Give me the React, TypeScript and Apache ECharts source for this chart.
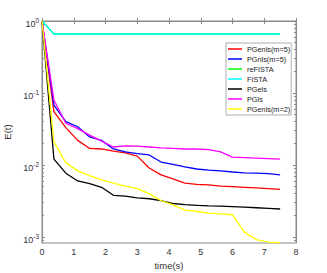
import React, { useEffect, useRef } from "react";
import * as echarts from "echarts";

const times: number[] = [0, 0.375, 0.75, 1.125, 1.5, 1.875, 2.25, 2.625, 3, 3.375, 3.75, 4.125, 4.5, 4.875, 5.25, 5.625, 6, 6.375, 6.75, 7.125, 7.5];

const seriesNames: string[] = ["PGenls(m=5)", "PGnls(m=5)", "reFISTA", "FISTA", "PGels", "PGls", "PGenls(m=2)"];
const seriesColors: string[] = ["#ff0000", "#0000ff", "#00ff00", "#00ffff", "#000000", "#ff00ff", "#ffff00"];

const pgenls5: number[] = [1.0, 0.055, 0.033, 0.022, 0.017, 0.0167, 0.0156, 0.0147, 0.0133, 0.0091, 0.0073, 0.0064, 0.0056, 0.0054, 0.0053, 0.0051, 0.005, 0.0049, 0.0048, 0.0047, 0.0046];
const pgnls5: number[] = [1.0, 0.068, 0.04, 0.034, 0.0245, 0.022, 0.0167, 0.0152, 0.0144, 0.0138, 0.011, 0.0102, 0.0094, 0.0088, 0.0085, 0.0083, 0.008, 0.0078, 0.0077, 0.0076, 0.0073];
const refista: number[] = [1.0, 0.66, 0.66, 0.66, 0.66, 0.66, 0.66, 0.66, 0.66, 0.66, 0.66, 0.66, 0.66, 0.66, 0.66, 0.66, 0.66, 0.66, 0.66, 0.66, 0.66];
const fista: number[] = [1.0, 0.66, 0.66, 0.66, 0.66, 0.66, 0.66, 0.66, 0.66, 0.66, 0.66, 0.66, 0.66, 0.66, 0.66, 0.66, 0.66, 0.66, 0.66, 0.66, 0.66];
const pgels: number[] = [1.0, 0.0121, 0.0077, 0.006, 0.0055, 0.0049, 0.0038, 0.0037, 0.0035, 0.0034, 0.0032, 0.00292, 0.00282, 0.00276, 0.0027, 0.00268, 0.00265, 0.0026, 0.00255, 0.0025, 0.00245];
const pgls: number[] = [1.0, 0.08, 0.038, 0.032, 0.026, 0.0215, 0.0178, 0.0185, 0.0183, 0.0178, 0.0173, 0.017, 0.0167, 0.0167, 0.0164, 0.0152, 0.0129, 0.0127, 0.0125, 0.0123, 0.0121];
const pgenls2: number[] = [1.0, 0.021, 0.0107, 0.0083, 0.0071, 0.0062, 0.0056, 0.0051, 0.0047, 0.004, 0.0032, 0.0028, 0.00237, 0.00228, 0.00215, 0.0021, 0.00204, 0.00117, 0.00092, 0.00085, 0.00083];

const seriesValues: number[][] = [pgenls5, pgnls5, refista, fista, pgels, pgls, pgenls2];

const yMajor: number[] = [-3, -2, -1, 0];
const yMin = -3.083;
const yMax = 0;

const xTickLabels: string[] = ["0", "1", "2", "3", "4", "5", "6", "7", "8"];

function minorLogTicks(): number[] {
  const out: number[] = [];
  for (let d = -4; d < 0; d++) {
    for (let m = 2; m <= 9; m++) {
      const v = d + Math.log10(m);
      if (v >= yMin && v <= yMax) out.push(v);
    }
  }
  return out;
}

const axisColor = "#8a8a8a";
const labelColor = "#333333";
const font = "Liberation Sans, Arial, sans-serif";

export default function App() {
  const ref = useRef<HTMLDivElement>(null);
  useEffect(() => {
    if (!ref.current) return;
    const chart = echarts.init(ref.current, null, { renderer: "svg" });
    const minors = minorLogTicks();
    const baseY = {
      type: "value",
      min: yMin,
      max: yMax,
      splitLine: { show: false },
      axisLine: { show: false },
    };
    const option: any = {
      animation: false,
      backgroundColor: "#ffffff",
      textStyle: { fontFamily: font },
      grid: {
        left: 42, right: 31, top: 21, bottom: 30,
        containLabel: false, outerBoundsMode: "none",
        show: true, borderColor: axisColor, borderWidth: 1, backgroundColor: "#ffffff",
      },
      legend: {
        orient: "vertical",
        left: 226,
        top: 43,
        data: seriesNames.map((n) => ({ name: n, icon: "rect" })),
        itemWidth: 14,
        itemHeight: 1.5,
        itemGap: 0,
        padding: [1, 1, 1, 2],
        backgroundColor: "#ffffff",
        borderColor: "#9a9a9a",
        borderWidth: 0.8,
        borderRadius: 0,
        textStyle: { fontSize: 7.3, lineHeight: 10, height: 10, color: "#222222", fontFamily: font },
      },
      xAxis: [
        {
          type: "value",
          min: 0,
          max: 8,
          interval: 1,
          position: "bottom",
          name: "time(s)",
          nameLocation: "middle",
          nameGap: 16,
          nameTextStyle: { fontSize: 9.5, color: labelColor, fontFamily: font },
          axisLine: { show: true, lineStyle: { color: axisColor } },
          axisTick: { show: true, inside: true, length: 3, lineStyle: { color: axisColor } },
          axisLabel: { fontSize: 9, color: labelColor, margin: 4, fontFamily: font, formatter: (v: number) => xTickLabels[Math.round(v)] ?? "" },
          splitLine: { show: false },
        },
        {
          type: "value",
          min: 0,
          max: 8,
          interval: 1,
          position: "top",
          axisLine: { show: true, lineStyle: { color: axisColor } },
          axisTick: { show: true, inside: true, length: 3, lineStyle: { color: axisColor } },
          axisLabel: { show: false },
          splitLine: { show: false },
        },
      ],
      yAxis: [
        {
          ...baseY,
          position: "left",
          name: "E(t)",
          nameLocation: "middle",
          nameGap: 21,
          nameTextStyle: { fontSize: 9.5, color: labelColor, fontFamily: font },
          axisLine: { show: true, lineStyle: { color: axisColor } },
          axisTick: { show: true, inside: true, length: 3, customValues: yMajor, lineStyle: { color: axisColor } },
          axisLabel: {
            customValues: yMajor,
            margin: 3,
            formatter: (v: number) => `{b|10}{s|${Math.round(v)}}`,
            rich: {
              b: { fontSize: 9, color: labelColor, fontFamily: font, padding: [5, 0, 0, 0] },
              s: { fontSize: 6.5, color: labelColor, fontFamily: font, padding: [0, 0, 2, 0] },
            },
          },
        },
        {
          ...baseY,
          position: "left",
          axisTick: { show: true, inside: true, length: 2, customValues: minors, lineStyle: { color: axisColor } },
          axisLabel: { show: false },
        },
        {
          ...baseY,
          position: "right",
          axisLine: { show: true, lineStyle: { color: axisColor } },
          axisTick: { show: true, inside: true, length: 3, customValues: yMajor, lineStyle: { color: axisColor } },
          axisLabel: { show: false },
        },
        {
          ...baseY,
          position: "right",
          axisTick: { show: true, inside: true, length: 2, customValues: minors, lineStyle: { color: axisColor } },
          axisLabel: { show: false },
        },
      ],
      series: seriesNames.map((name, i) => ({
        name,
        type: "line",
        xAxisIndex: 0,
        yAxisIndex: 0,
        showSymbol: false,
        symbol: "none",
        color: seriesColors[i],
        lineStyle: { width: 1.3, color: seriesColors[i] },
        z: 2 + i,
        data: times.map((t, k) => [t, Math.log10(seriesValues[i][k])]),
      })),
    };
    chart.setOption(option);
    return () => chart.dispose();
  }, []);
  return <div ref={ref} style={{ position: "fixed", left: 0, top: 0, width: 327, height: 273 }} />;
}
